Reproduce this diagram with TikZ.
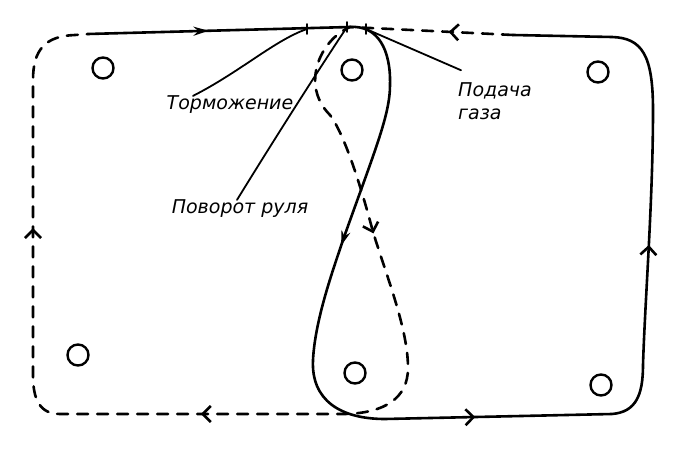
\documentclass[tikz,border=0pt]{standalone}
\usepackage{fontspec}
\setmainfont{DejaVu Sans}
\usetikzlibrary{arrows.meta, decorations.markings}

\begin{document}
\begin{tikzpicture}[x=1pt, y=-1pt,
  track/.style={line width=2.6pt, line cap=round, line join=round},
  ghost/.style={track, dash pattern=on 11pt off 9pt},
  post/.style={circle, draw, line width=2.4pt, minimum size=21pt, inner sep=0pt},
  leader/.style={line width=1.8pt, line cap=round},
  note/.style={font=\fontsize{19}{23}\selectfont\itshape, align=left, inner sep=0pt},
  tipa/.style={postaction={decorate, decoration={markings,
      mark=at position #1 with {\arrow{Stealth[length=15pt, width=9pt]}}}}},
  tipb/.style={postaction={decorate, decoration={markings,
      mark=at position #1 with {\arrow{Straight Barb[length=8pt, width=16pt]}}}}}
]
\useasboundingbox (0,0) rectangle (680,457);

% posts
\node[post] (nw) at (103,68) {};
\node[post] (nm) at (352,70) {};
\node[post] (ne) at (598,72) {};
\node[post] (sw) at (78,355) {};
\node[post] (sm) at (355,373) {};
\node[post] (se) at (601,385) {};

\coordinate (top) at (350,27);
\coordinate (brakept) at (307,29);
\coordinate (steerpt) at (347,27);
\coordinate (gaspt) at (366,29);

% solid run
\draw[track, tipa=0.46] (88,34) -- (top);
\draw[track, tipa=0.205, tipb=0.464, tipb=0.729] (top)
  .. controls (378,25) and (391,50) .. (390,85)
  .. controls (390,115) and (375,150) .. (343,240)
  .. controls (333,270) and (315,320) .. (313,360)
  .. controls (311,400) and (340,419) .. (385,419)
  -- (612,414)
  .. controls (636,412) and (643,395) .. (643,365)
  .. controls (645,300) and (653,200) .. (653,110)
  .. controls (653,55) and (642,38) .. (612,37)
  -- (513,35);

% dashed run
\draw[ghost, tipb=0.048, tipb=0.295, tipb=0.572, tipb=0.827] (513,35) -- (top)
  .. controls (320,40) and (300,85) .. (330,115)
  .. controls (345,135) and (362,190) .. (373,232)
  .. controls (388,280) and (408,330) .. (408,368)
  .. controls (408,398) and (385,413) .. (345,414)
  -- (60,414)
  .. controls (40,414) and (33,400) .. (33,375)
  -- (33,80)
  .. controls (33,50) and (45,36) .. (75,35)
  -- (88,34);

\node[note] (brake) at (230,105) {Торможение};
\node[note] (steer) at (240,209) {Поворот руля};
\node[note] (gas) at (495,101) {Подача\\газа};

\draw[leader] ([xshift=-37pt]brake.north) .. controls (240,72) and (275,40) .. (brakept);
\draw[leader] ([xshift=-3pt]steer.north) .. controls (280,130) and (325,60) .. (steerpt);
\draw[leader] ([xshift=3pt, yshift=12pt]gas.north west) -- (gaspt);

% ticks
\draw[leader] ([yshift=-5pt]brakept) -- ([yshift=5pt]brakept);
\draw[leader] ([yshift=-5pt]steerpt) -- ([yshift=5pt]steerpt);
\draw[leader] ([yshift=-5pt]gaspt) -- ([yshift=5pt]gaspt);

\end{tikzpicture}
\end{document}
